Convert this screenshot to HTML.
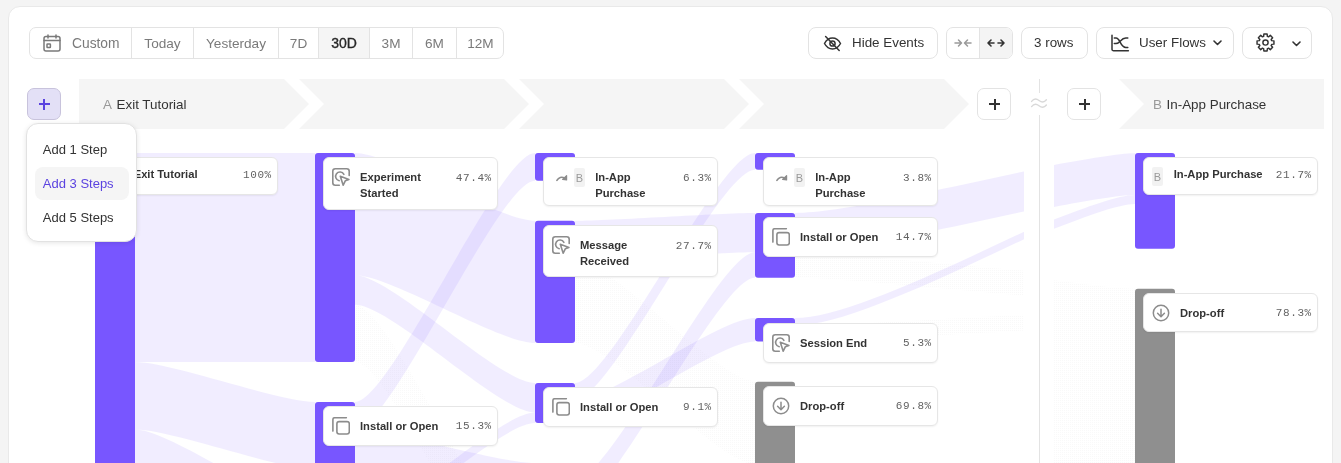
<!DOCTYPE html>
<html><head><meta charset="utf-8">
<style>
*{box-sizing:border-box;margin:0;padding:0}
html,body{width:1341px;height:463px;overflow:hidden;background:#f4f4f4;font-family:"Liberation Sans",sans-serif;color:#333}
.card{position:absolute;left:8px;top:6px;width:1325px;height:520px;background:#fff;border:1px solid #e9e9e9;border-radius:12px}
.abs{position:absolute;will-change:transform}
.grp{will-change:transform;position:absolute;top:27px;height:31.5px;border:1px solid #e3e3e3;border-radius:7px;background:#fff;overflow:hidden}
.seg{position:absolute;top:0;height:100%;display:flex;align-items:center;justify-content:center;font-size:13.6px;color:#7a7a7a;border-left:1px solid #e3e3e3;padding-top:1px}
.btn{will-change:transform;position:absolute;top:27px;height:31.5px;border:1px solid #e3e3e3;border-radius:8px;background:#fff;font-size:14px;color:#333}
.btn span.t{position:absolute;top:7px;white-space:nowrap;font-size:13.4px}
.nc{will-change:transform;position:absolute;width:174.8px;background:#fff;border:1px solid #e6e6e6;border-radius:6px;box-shadow:0 1px 2px rgba(0,0,0,0.06)}
.nc .ic{position:absolute;line-height:0}
.nc .bd{position:absolute;width:11px;height:19.5px;background:#f2f2f2;border-radius:2px;color:#9a9a9a;font-size:11px;line-height:20px;text-align:center}
.nc .tt{position:absolute;font-weight:700;font-size:11.2px;line-height:16px;color:#333;white-space:nowrap}
.nc .pc{position:absolute;right:5px;font-family:"Liberation Mono",monospace;font-size:11px;letter-spacing:0.6px;line-height:16px;color:#626262;margin-top:0.6px}
.plus{position:absolute;top:88px;width:34px;height:32px;border:1px solid #e3e3e3;border-radius:7px;background:#fff}
.plus:before{content:"";position:absolute;left:11px;top:14px;width:11px;height:2px;background:#333}
.plus:after{content:"";position:absolute;left:15.5px;top:9.5px;width:2px;height:11px;background:#333}
.menu{will-change:transform;position:absolute;left:26.2px;top:123px;width:111px;height:119px;background:#fff;border:1px solid #e2e2e2;border-radius:12px;box-shadow:0 1px 5px rgba(0,0,0,0.10)}
.mi{position:absolute;left:8.3px;width:93.5px;height:33px;border-radius:8px;font-size:13px;line-height:33px;padding-left:7.5px;color:#333;white-space:nowrap}
.hd{will-change:transform;position:absolute;top:96.8px;font-size:13.4px;line-height:16px;white-space:nowrap;color:#333}
.hd b{font-weight:400;color:#999;margin-right:4.6px}
</style></head><body>
<div class="card"></div>

<!-- date range group -->
<div class="grp" style="left:29px;width:474.5px">
  <div class="seg" style="left:0;width:101.1px;border-left:none"></div>
  <div class="seg" style="left:101.1px;width:61.8px">Today</div>
  <div class="seg" style="left:162.9px;width:85.2px">Yesterday</div>
  <div class="seg" style="left:248.1px;width:39.9px">7D</div>
  <div class="seg" style="left:288px;width:51.1px;background:#f5f5f5;color:#262626;font-size:14px;-webkit-text-stroke:0.35px #262626">30D</div>
  <div class="seg" style="left:339.1px;width:42.9px">3M</div>
  <div class="seg" style="left:382px;width:43.9px">6M</div>
  <div class="seg" style="left:425.9px;width:48.1px">12M</div>
</div>
<svg class="abs" style="left:43px;top:34px" width="18" height="18" viewBox="0 0 18 18" fill="none" stroke="#7a7a7a" stroke-width="1.5" stroke-linecap="round"><rect x="1" y="2.5" width="16" height="14.5" rx="2"/><path d="M1 6.5h16M5 1v3M13 1v3"/><rect x="4" y="10" width="3.4" height="3.4" rx="0.5"/></svg>
<span class="abs" style="left:71.5px;top:35.5px;font-size:13.8px;color:#7a7a7a">Custom</span>

<!-- right toolbar -->
<div class="btn" style="left:808px;width:129.5px"><span class="t" style="left:43px">Hide Events</span></div>
<svg class="abs" style="left:822.5px;top:33.6px" width="19" height="19" viewBox="0 0 19 19" fill="none" stroke="#333" stroke-width="1.5" stroke-linecap="round"><path d="M1.5 9.5C3.5 5.8 6.3 4 9.5 4s6 1.8 8 5.5c-2 3.7-4.8 5.5-8 5.5s-6-1.8-8-5.5z"/><circle cx="9.5" cy="9.5" r="2.6"/><path d="M2.6 2.5l13.6 14"/></svg>
<div class="grp" style="left:946.4px;width:66.5px">
  <div class="seg" style="left:32px;width:34px;background:#f4f4f4"></div>
</div>
<svg class="abs" style="left:954px;top:37px" width="18" height="12" viewBox="0 0 18 12" fill="none" stroke="#9a9a9a" stroke-width="1.5" stroke-linecap="round" stroke-linejoin="round"><path d="M1 6h6M4.5 3l3 3-3 3M17 6h-6M13.5 3l-3 3 3 3"/></svg>
<svg class="abs" style="left:987px;top:37px" width="18" height="12" viewBox="0 0 18 12" fill="none" stroke="#333" stroke-width="1.6" stroke-linecap="round" stroke-linejoin="round"><path d="M1 6h6M4 3L1 6l3 3M17 6h-6M14 3l3 3-3 3"/></svg>
<div class="btn" style="left:1021px;width:66.5px"><span class="t" style="left:12px">3 rows</span></div>
<div class="btn" style="left:1096.3px;width:137.5px"><span class="t" style="left:42px">User Flows</span></div>
<svg class="abs" style="left:1110.8px;top:33.5px" width="19" height="18" viewBox="0 0 19 18" fill="none" stroke="#333" stroke-width="1.5" stroke-linecap="round" stroke-linejoin="round"><path d="M1 1.2V15.2A1.6 1.6 0 0 0 2.6 16.8H17.4"/><path d="M3.3 4.1H5C9.4 4.1 9.2 13.4 14.8 13.4H16.8M3.3 9.6H5C9.4 9.6 9.6 4.1 14.8 4.1H16.8"/></svg>
<svg class="abs" style="left:1213px;top:40px" width="9" height="6" viewBox="0 0 9 6" fill="none" stroke="#333" stroke-width="1.6" stroke-linecap="round" stroke-linejoin="round"><path d="M1 1l3.5 3.5L8 1"/></svg>
<div class="btn" style="left:1242.4px;width:70.4px"></div>
<svg class="abs" style="left:1256.4px;top:33.4px" width="19" height="19" viewBox="0 0 19 19" fill="none" stroke="#333" stroke-width="1.45" stroke-linejoin="round"><path d="M7.05 3.59 L7.63 3.38 L7.86 1.06 L11.14 1.06 L11.37 3.38 L11.95 3.59 L12.50 3.85 L14.31 2.37 L16.63 4.69 L15.15 6.50 L15.41 7.05 L15.62 7.63 L17.94 7.86 L17.94 11.14 L15.62 11.37 L15.41 11.95 L15.15 12.50 L16.63 14.31 L14.31 16.63 L12.50 15.15 L11.95 15.41 L11.37 15.62 L11.14 17.94 L7.86 17.94 L7.63 15.62 L7.05 15.41 L6.50 15.15 L4.69 16.63 L2.37 14.31 L3.85 12.50 L3.59 11.95 L3.38 11.37 L1.06 11.14 L1.06 7.86 L3.38 7.63 L3.59 7.05 L3.85 6.50 L2.37 4.69 L4.69 2.37 L6.50 3.85Z"/><circle cx="9.5" cy="9.5" r="2.6"/></svg>
<svg class="abs" style="left:1292px;top:41.3px" width="9" height="6" viewBox="0 0 9 6" fill="none" stroke="#333" stroke-width="1.6" stroke-linecap="round" stroke-linejoin="round"><path d="M1 1l3.5 3.5L8 1"/></svg>

<!-- flow svg -->
<svg class="abs" style="left:0;top:0" width="1341" height="463" viewBox="0 0 1341 463">
<defs>
<pattern id="hatch" width="2" height="2" patternUnits="userSpaceOnUse"><rect width="1" height="1" fill="rgba(0,0,0,0.024)"/></pattern>
<clipPath id="clipL"><rect x="0" y="140" width="1024" height="330"/></clipPath>
<clipPath id="clipR"><rect x="1054" y="140" width="300" height="330"/></clipPath>
</defs>
<polygon fill="#f5f5f5" points="79,79 284,79 309,104 284,129 79,129"/><polygon fill="#f5f5f5" points="299,79 504,79 529,104 504,129 299,129 324,104"/><polygon fill="#f5f5f5" points="519,79 724,79 749,104 724,129 519,129 544,104"/><polygon fill="#f5f5f5" points="739,79 944,79 969,104 944,129 739,129 764,104"/><polygon fill="#f5f5f5" points="1119,79 1324,79 1324,129 1119,129 1144,104"/><line x1="1039.5" y1="79" x2="1039.5" y2="93" stroke="#e3e3e3" stroke-width="1"/><line x1="1039.5" y1="115" x2="1039.5" y2="463" stroke="#e3e3e3" stroke-width="1"/>
<g clip-path="url(#clipL)"><path d="M135,153 C171.0,153 279.0,153 315,153 L315,362 C279.0,362 171.0,362 135,362 Z" fill="rgba(120,86,255,0.105)"/><path d="M135,362 C171.0,362 279.0,402 315,402 L315,469.5 C279.0,469.5 171.0,429.5 135,429.5 Z" fill="rgba(120,86,255,0.105)"/><path d="M135,429.5 C171.0,429.5 279.0,509.5 315,509.5 L315,674 C279.0,674 171.0,594 135,594 Z" fill="rgba(120,86,255,0.105)"/><path d="M355,153 C391.0,153 499.0,220.8 535,220.8 L535,343 C499.0,343 391.0,275.2 355,275.2 Z" fill="rgba(120,86,255,0.105)"/><path d="M355,275.2 C391.0,275.2 499.0,383 535,383 L535,412.6 C499.0,412.6 391.0,304.8 355,304.8 Z" fill="rgba(120,86,255,0.105)"/><path d="M355,304.8 C391.0,304.8 499.0,560 535,560 L535,617.2 C499.0,617.2 391.0,362 355,362 Z" fill="url(#hatch)"/><path d="M355,520 C391.0,520 499.0,412.6 535,412.6 L535,423.1 C499.0,423.1 391.0,530.5 355,530.5 Z" fill="rgba(120,86,255,0.105)"/><path d="M355,402 C391.0,402 499.0,153 535,153 L535,180.8 C499.0,180.8 391.0,429.8 355,429.8 Z" fill="rgba(120,86,255,0.105)"/><path d="M355,429.8 C391.0,429.8 499.0,463.1 535,463.1 L535,502.8 C499.0,502.8 391.0,469.5 355,469.5 Z" fill="rgba(120,86,255,0.105)"/><path d="M575,220.8 C611.0,220.8 719.0,213 755,213 L755,252.2 C719.0,252.2 611.0,260 575,260 Z" fill="rgba(120,86,255,0.105)"/><path d="M575,383 C611.0,383 719.0,153 755,153 L755,169.8 C719.0,169.8 611.0,399.8 575,399.8 Z" fill="rgba(120,86,255,0.105)"/><path d="M575,399.8 C611.0,399.8 719.0,318.1 755,318.1 L755,341.4 C719.0,341.4 611.0,423.1 575,423.1 Z" fill="rgba(120,86,255,0.105)"/><path d="M575,480 C611.0,480 719.0,252.2 755,252.2 L755,277.8 C719.0,277.8 611.0,505.6 575,505.6 Z" fill="rgba(120,86,255,0.105)"/><path d="M575,260 C611.0,260 719.0,381.2 755,381.2 L755,464.2 C719.0,464.2 611.0,343 575,343 Z" fill="url(#hatch)"/><path d="M575,505.6 C611.0,505.6 719.0,464.2 755,464.2 L755,560 C719.0,560 611.0,600 575,600 Z" fill="url(#hatch)"/><path d="M795,213 C868.0,213 1087.0,150 1160,150 L1160,190 C1087.0,190 868.0,253 795,253 Z" fill="rgba(120,86,255,0.105)"/><path d="M795,318.1 C888.0,318.1 1167.0,142 1260,142 L1260,149.5 C1167.0,149.5 888.0,325.6 795,325.6 Z" fill="rgba(120,86,255,0.105)"/><path d="M795,253 C856.0,253 1039.0,275 1100,275 L1100,300 C1039.0,300 856.0,277.8 795,277.8 Z" fill="url(#hatch)"/><path d="M795,325.8 C856.0,325.8 1039.0,312 1100,312 L1100,328 C1039.0,328 856.0,341.2 795,341.2 Z" fill="url(#hatch)"/></g>
<g clip-path="url(#clipR)"><path d="M975,176.25 C1007.0,176.25 1103.0,153.2 1135,153.2 L1135,195.1 C1103.0,195.1 1007.0,218.5 975,218.5 Z" fill="rgba(120,86,255,0.105)"/><path d="M975,243.25 C1007.0,243.25 1103.0,195.1 1135,195.1 L1135,204 C1103.0,204 1007.0,252.75 975,252.75 Z" fill="rgba(120,86,255,0.105)"/><path d="M975,272 C1007.0,272 1103.0,288.7 1135,288.7 L1135,634 C1103.0,634 1007.0,640 975,640 Z" fill="url(#hatch)"/></g>
<rect x="95" y="153" width="40" height="441" rx="3" fill="#7856ff"/><rect x="315" y="153" width="40" height="209" rx="3" fill="#7856ff"/><rect x="315" y="402" width="40" height="67.5" rx="3" fill="#7856ff"/><rect x="535" y="153" width="40" height="27.80000000000001" rx="3" fill="#7856ff"/><rect x="535" y="220.8" width="40" height="122.19999999999999" rx="3" fill="#7856ff"/><rect x="535" y="383" width="40" height="40.10000000000002" rx="3" fill="#7856ff"/><rect x="755" y="153" width="40" height="16.80000000000001" rx="3" fill="#7856ff"/><rect x="755" y="213" width="40" height="64.80000000000001" rx="3" fill="#7856ff"/><rect x="755" y="318.1" width="40" height="23.299999999999955" rx="3" fill="#7856ff"/><rect x="755" y="381.8" width="40" height="307.2" rx="3" fill="#8f8f8f"/><rect x="1135" y="153" width="40" height="95.69999999999999" rx="3" fill="#7856ff"/><rect x="1135" y="288.7" width="40" height="345.3" rx="3" fill="#8f8f8f"/>
</svg>

<!-- header text -->
<div class="hd" style="left:103.2px"><b>A</b>Exit Tutorial</div>
<div class="hd" style="left:1152.8px"><b>B</b>In-App Purchase</div>
<div class="plus" style="left:977px"></div>
<div class="plus" style="left:1067px"></div>
<svg class="abs" style="left:0;top:0" width="1341" height="130" fill="none" stroke="#d9d9d9" stroke-width="1.4" stroke-linecap="round"><path d="M1031.6 101.4C1034 98.3 1036.5 98.6 1039 100.5C1041.5 102.4 1044 102.8 1046.4 99.8"/><path d="M1031.6 106.6C1034 103.5 1036.5 103.8 1039 105.7C1041.5 107.6 1044 108 1046.4 105"/></svg>

<!-- node cards -->
<div class="nc" style="left:103px;top:157px;height:37.5px"><span class="bd" style="left:8px;top:8.5px">A</span><span class="tt" style="left:29.7px;top:8.2px">Exit Tutorial</span><span class="pc" style="top:8.2px">100%</span></div><div class="nc" style="left:323px;top:157px;height:52.7px"><span class="ic" style="left:8px;top:10px"><svg width="18" height="18" viewBox="0 0 18 18" fill="none" stroke="#8c8c8c" stroke-width="1.6" stroke-linecap="round" stroke-linejoin="round"><path d="M7.3 17.2H3.3A2.5 2.5 0 0 1 0.8 14.7V3.3A2.5 2.5 0 0 1 3.3 0.8H14.7A2.5 2.5 0 0 1 17.2 3.3V7.4"/><path d="M11.9 6.3A4.4 4.4 0 1 0 7.2 12.7"/><path d="M8.3 8.3L16.9 11.4L13.3 12.8L11.2 17.2Z"/></svg></span><span class="tt" style="left:36px;top:11.2px">Experiment<br>Started</span><span class="pc" style="top:11.2px">47.4%</span></div><div class="nc" style="left:323px;top:406.3px;height:39.5px"><span class="ic" style="left:8px;top:10px"><svg width="18" height="18" viewBox="0 0 18 18" fill="none" stroke="#8c8c8c" stroke-width="1.6" stroke-linecap="round" stroke-linejoin="round"><path d="M0.9 14.1V2.6A1.9 1.9 0 0 1 2.8 0.7H14.3"/><rect x="4.9" y="4.6" width="12.4" height="12.4" rx="2.2"/></svg></span><span class="tt" style="left:36px;top:10.599999999999998px">Install or Open</span><span class="pc" style="top:10.599999999999998px">15.3%</span></div><div class="nc" style="left:543px;top:157px;height:49px"><span class="ic" style="left:11.5px;top:15.5px"><svg width="12" height="8" viewBox="0 0 12 8" fill="none" stroke="#8c8c8c" stroke-width="1.6" stroke-linecap="round" stroke-linejoin="round"><path d="M0.9 6.4C2.6 3.4 5.6 2.3 9 4.4"/><path d="M10.6 1.6L10.6 5.9L6.6 5.4Z" fill="#8c8c8c" stroke-width="1.2"/></svg></span><span class="bd" style="left:30px;top:9.5px">B</span><span class="tt" style="left:51.2px;top:11.2px">In-App<br>Purchase</span><span class="pc" style="top:11.2px">6.3%</span></div><div class="nc" style="left:543px;top:225px;height:52px"><span class="ic" style="left:8px;top:10px"><svg width="18" height="18" viewBox="0 0 18 18" fill="none" stroke="#8c8c8c" stroke-width="1.6" stroke-linecap="round" stroke-linejoin="round"><path d="M7.3 17.2H3.3A2.5 2.5 0 0 1 0.8 14.7V3.3A2.5 2.5 0 0 1 3.3 0.8H14.7A2.5 2.5 0 0 1 17.2 3.3V7.4"/><path d="M11.9 6.3A4.4 4.4 0 1 0 7.2 12.7"/><path d="M8.3 8.3L16.9 11.4L13.3 12.8L11.2 17.2Z"/></svg></span><span class="tt" style="left:36px;top:11.2px">Message<br>Received</span><span class="pc" style="top:11.2px">27.7%</span></div><div class="nc" style="left:543px;top:387px;height:39.5px"><span class="ic" style="left:8px;top:10px"><svg width="18" height="18" viewBox="0 0 18 18" fill="none" stroke="#8c8c8c" stroke-width="1.6" stroke-linecap="round" stroke-linejoin="round"><path d="M0.9 14.1V2.6A1.9 1.9 0 0 1 2.8 0.7H14.3"/><rect x="4.9" y="4.6" width="12.4" height="12.4" rx="2.2"/></svg></span><span class="tt" style="left:36px;top:10.599999999999998px">Install or Open</span><span class="pc" style="top:10.599999999999998px">9.1%</span></div><div class="nc" style="left:763px;top:157px;height:49px"><span class="ic" style="left:11.5px;top:15.5px"><svg width="12" height="8" viewBox="0 0 12 8" fill="none" stroke="#8c8c8c" stroke-width="1.6" stroke-linecap="round" stroke-linejoin="round"><path d="M0.9 6.4C2.6 3.4 5.6 2.3 9 4.4"/><path d="M10.6 1.6L10.6 5.9L6.6 5.4Z" fill="#8c8c8c" stroke-width="1.2"/></svg></span><span class="bd" style="left:30px;top:9.5px">B</span><span class="tt" style="left:51.2px;top:11.2px">In-App<br>Purchase</span><span class="pc" style="top:11.2px">3.8%</span></div><div class="nc" style="left:763px;top:217.4px;height:39.5px"><span class="ic" style="left:8px;top:10px"><svg width="18" height="18" viewBox="0 0 18 18" fill="none" stroke="#8c8c8c" stroke-width="1.6" stroke-linecap="round" stroke-linejoin="round"><path d="M0.9 14.1V2.6A1.9 1.9 0 0 1 2.8 0.7H14.3"/><rect x="4.9" y="4.6" width="12.4" height="12.4" rx="2.2"/></svg></span><span class="tt" style="left:36px;top:10.599999999999998px">Install or Open</span><span class="pc" style="top:10.599999999999998px">14.7%</span></div><div class="nc" style="left:763px;top:322.6px;height:39.5px"><span class="ic" style="left:8px;top:10px"><svg width="18" height="18" viewBox="0 0 18 18" fill="none" stroke="#8c8c8c" stroke-width="1.6" stroke-linecap="round" stroke-linejoin="round"><path d="M7.3 17.2H3.3A2.5 2.5 0 0 1 0.8 14.7V3.3A2.5 2.5 0 0 1 3.3 0.8H14.7A2.5 2.5 0 0 1 17.2 3.3V7.4"/><path d="M11.9 6.3A4.4 4.4 0 1 0 7.2 12.7"/><path d="M8.3 8.3L16.9 11.4L13.3 12.8L11.2 17.2Z"/></svg></span><span class="tt" style="left:36px;top:10.599999999999998px">Session End</span><span class="pc" style="top:10.599999999999998px">5.3%</span></div><div class="nc" style="left:763px;top:386px;height:39.8px"><span class="ic" style="left:8px;top:10px"><svg width="18" height="18" viewBox="0 0 18 18" fill="none" stroke="#8c8c8c" stroke-width="1.5" stroke-linecap="round" stroke-linejoin="round"><circle cx="9" cy="9" r="7.7"/><path d="M9 5.2v7.2M5.6 9.3L9 12.7l3.4-3.4"/></svg></span><span class="tt" style="left:36px;top:10.599999999999998px">Drop-off</span><span class="pc" style="top:10.599999999999998px">69.8%</span></div><div class="nc" style="left:1143px;top:157px;height:37.5px"><span class="bd" style="left:8px;top:8.5px">B</span><span class="tt" style="left:29.7px;top:8.2px">In-App Purchase</span><span class="pc" style="top:8.2px">21.7%</span></div><div class="nc" style="left:1143px;top:293.4px;height:39.3px"><span class="ic" style="left:8px;top:10px"><svg width="18" height="18" viewBox="0 0 18 18" fill="none" stroke="#8c8c8c" stroke-width="1.5" stroke-linecap="round" stroke-linejoin="round"><circle cx="9" cy="9" r="7.7"/><path d="M9 5.2v7.2M5.6 9.3L9 12.7l3.4-3.4"/></svg></span><span class="tt" style="left:36px;top:10.599999999999998px">Drop-off</span><span class="pc" style="top:10.599999999999998px">78.3%</span></div>

<!-- add step button + menu -->
<div class="abs" style="left:27px;top:88px;width:34px;height:31.5px;border:1px solid #c8c3dc;border-radius:7px;background:#e3e0f6"></div>
<div class="abs" style="left:38.5px;top:103px;width:11px;height:2px;background:#5b43e0"></div>
<div class="abs" style="left:43px;top:98.5px;width:2px;height:11px;background:#5b43e0"></div>
<div class="menu">
  <div class="mi" style="top:9px">Add 1 Step</div>
  <div class="mi" style="top:43px;background:#f5f5f5;color:#5b43e0">Add 3 Steps</div>
  <div class="mi" style="top:77px">Add 5 Steps</div>
</div>
</body></html>
